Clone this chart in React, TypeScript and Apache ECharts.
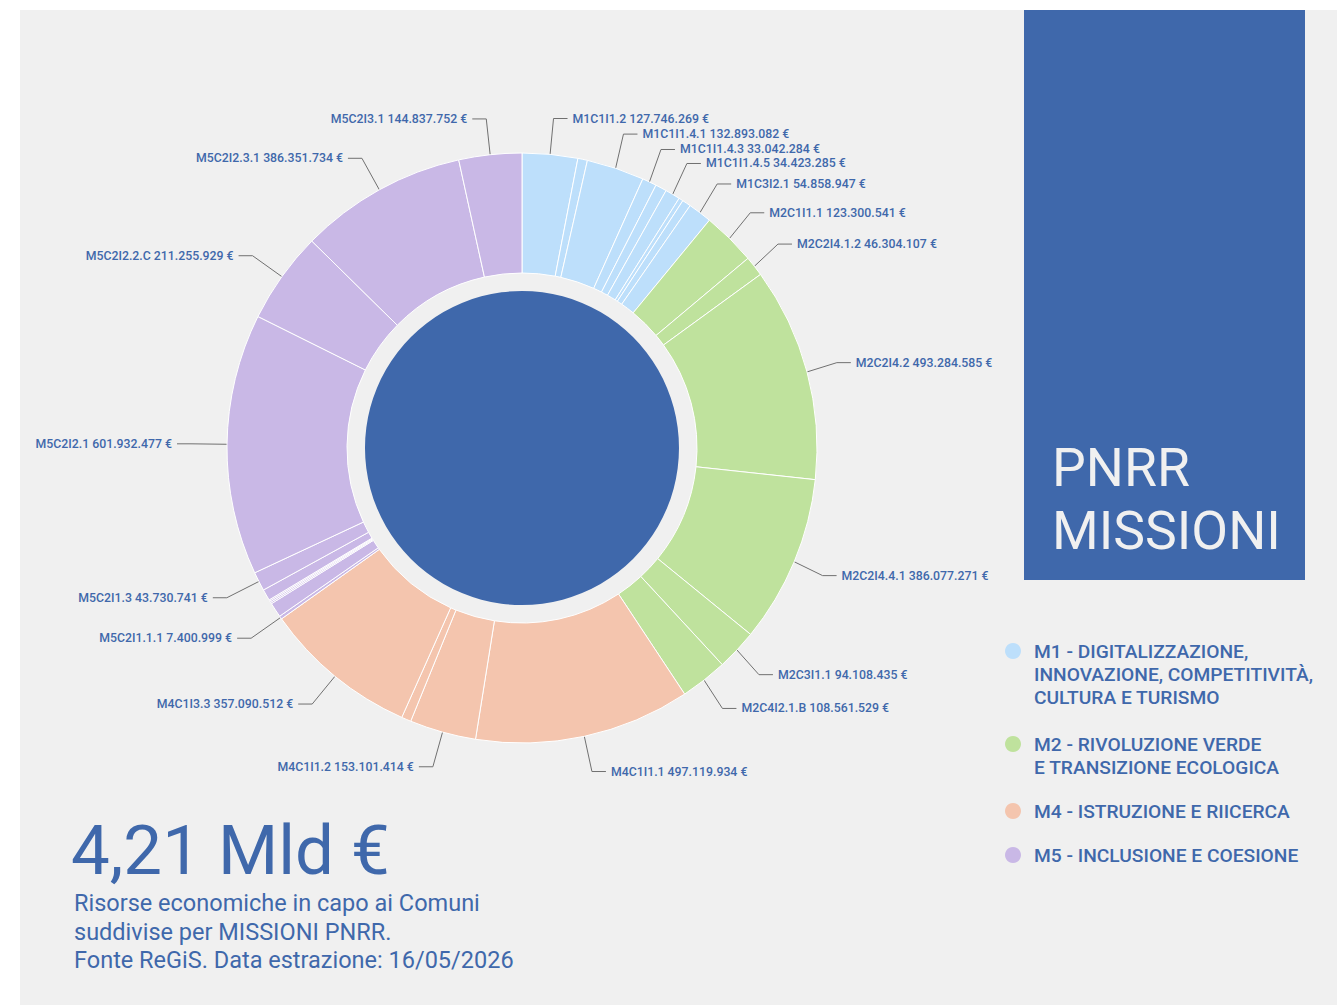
import React, { useEffect, useRef } from 'react';
import * as echarts from 'echarts';

// Missions (legend)
const missionCodes = ['M1', 'M2', 'M4', 'M5'];
const missionColors = ['#bddffb', '#bfe29d', '#f4c5ae', '#c9b8e6'];
const missionLegendLines = [
  ['M1 - DIGITALIZZAZIONE,', 'INNOVAZIONE, COMPETITIVITÀ,', 'CULTURA E TURISMO'],
  ['M2 - RIVOLUZIONE VERDE', 'E TRANSIZIONE ECOLOGICA'],
  ['M4 - ISTRUZIONE E RIICERCA'],
  ['M5 - INCLUSIONE E COESIONE'],
];

// Investments (ring slices), clockwise from the top
const investmentCodes = [
  'M1C1I1.2', 'M1C1I1.3.1', 'M1C1I1.4.1', 'M1C1I1.4.3', 'M1C1I1.4.4', 'M1C1I1.4.5', 'M1C3I1.2', 'M1C3I1.3', 'M1C3I2.1',
  'M2C1I1.1', 'M2C2I4.1.2', 'M2C2I4.2', 'M2C2I4.4.1', 'M2C3I1.1', 'M2C4I2.1.B',
  'M4C1I1.1', 'M4C1I1.2', 'M4C1I1.3', 'M4C1I3.3',
  'M5C2I1.1.1', 'M5C2I1.1.2', 'M5C2I1.1.3', 'M5C2I1.1.4', 'M5C2I1.1.5', 'M5C2I1.2', 'M5C2I1.3', 'M5C2I2.1', 'M5C2I2.2.C', 'M5C2I2.3.1', 'M5C2I3.1',
];
const investmentValues = [
  127746269, 22000000, 132893082, 33042284, 26000000, 34423285, 10000000, 20000000, 54858947,
  123300541, 46304107, 493284585, 386077271, 94108435, 108561529,
  497119934, 153101414, 22000000, 357090512,
  7400999, 34000000, 3500000, 3500000, 3000000, 26000000, 43730741, 601932477, 211255929, 386351734, 144837752,
];
// Slices whose label is printed in the reference
const labeledCodes = [
  'M1C1I1.2', 'M1C1I1.4.1', 'M1C1I1.4.3', 'M1C1I1.4.5', 'M1C3I2.1',
  'M2C1I1.1', 'M2C2I4.1.2', 'M2C2I4.2', 'M2C2I4.4.1', 'M2C3I1.1', 'M2C4I2.1.B',
  'M4C1I1.1', 'M4C1I1.2', 'M4C1I3.3',
  'M5C2I1.1.1', 'M5C2I1.3', 'M5C2I2.1', 'M5C2I2.2.C', 'M5C2I2.3.1', 'M5C2I3.1',
];

const titleLines = ['PNRR', 'MISSIONI'];
const totalText = '4,21 Mld €';
const subtitleLines = [
  'Risorse economiche in capo ai Comuni',
  'suddivise per MISSIONI PNRR.',
  'Fonte ReGiS. Data estrazione: 16/05/2026',
];

const BLUE = '#3f68ab';
const BG = '#f0f0f0';
const FONT = 'Roboto';

function fmt(v: number): string {
  return Math.round(v).toString().replace(/\B(?=(\d{3})+(?!\d))/g, '.');
}

export default function App() {
  const ref = useRef<HTMLDivElement>(null);

  useEffect(() => {
    document.body.style.margin = '0';
    const chart = echarts.init(ref.current!, null, { renderer: 'svg' });

    const data = investmentCodes.map((code, i) => {
      const m = missionCodes.indexOf(code.slice(0, 2));
      const show = labeledCodes.includes(code);
      return {
        name: code,
        value: investmentValues[i],
        itemStyle: { color: missionColors[m] },
        label: { show },
        labelLine: { show },
      };
    });
    const total = investmentValues.reduce((a, b) => a + b, 0);

    const graphics: any[] = [
      { type: 'rect', z: -10, silent: true, shape: { x: 20, y: 10, width: 1317, height: 995 }, style: { fill: BG } },
      { type: 'rect', z: -5, silent: true, shape: { x: 1024, y: 10, width: 281, height: 570 }, style: { fill: BLUE } },
    ];
    titleLines.forEach((t, i) => {
      graphics.push({
        type: 'text', x: 1052, y: 467 + i * 63,
        style: { text: t, fill: BG, font: `400 53.5px ${FONT}`, textVerticalAlign: 'middle', textAlign: 'left' },
      });
    });
    graphics.push({
      type: 'text', x: 71, y: 850,
      style: { text: totalText, fill: BLUE, font: `400 69px ${FONT}`, textVerticalAlign: 'middle', textAlign: 'left' },
    });
    subtitleLines.forEach((t, i) => {
      graphics.push({
        type: 'text', x: 74, y: 903 + i * 28.5,
        style: { text: t, fill: BLUE, font: `400 23.5px ${FONT}`, textVerticalAlign: 'middle', textAlign: 'left' },
      });
    });
    const legendY = [651, 744, 811, 855];
    missionLegendLines.forEach((lines, m) => {
      graphics.push({
        type: 'circle', shape: { cx: 1013, cy: legendY[m], r: 8 }, style: { fill: missionColors[m] },
      });
      lines.forEach((t, j) => {
        graphics.push({
          type: 'text', x: 1034, y: legendY[m] + j * 23,
          style: { text: t, fill: BLUE, font: `500 19.2px ${FONT}`, textVerticalAlign: 'middle', textAlign: 'left' },
        });
      });
    });

    chart.setOption({
      animation: false,
      backgroundColor: '#ffffff',
      graphic: graphics,
      series: [
        {
          type: 'pie',
          center: [522, 448],
          radius: [0, 157],
          silent: true,
          label: { show: false },
          labelLine: { show: false },
          data: [{ name: 'Totale', value: total, itemStyle: { color: BLUE } }],
        },
        {
          type: 'pie',
          center: [522, 448],
          radius: [175, 295],
          startAngle: 90,
          clockwise: true,
          avoidLabelOverlap: true,
          itemStyle: { borderColor: '#ffffff', borderWidth: 1 },
          label: {
            formatter: (p: any) => `${p.name} ${fmt(p.value)} €`,
            color: BLUE,
            fontFamily: FONT,
            fontSize: 12.3,
            fontWeight: 500,
          },
          labelLine: { length: 36, length2: 14, lineStyle: { color: '#707070', width: 1 } },
          data,
        },
      ],
    });

    return () => chart.dispose();
  }, []);

  return <div ref={ref} style={{ width: 1337, height: 1005 }} />;
}
